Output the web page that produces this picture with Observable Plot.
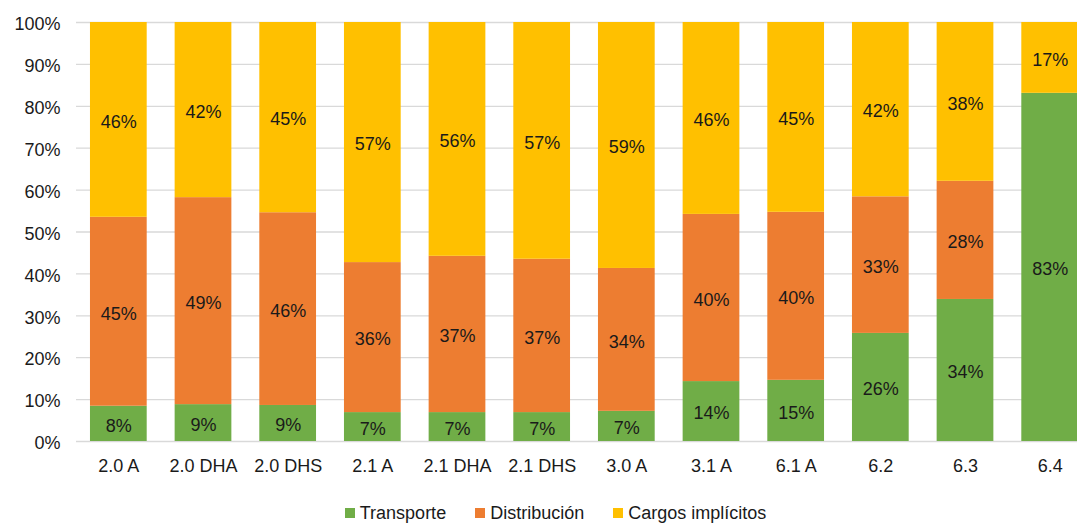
<!DOCTYPE html>
<html>
<head>
<meta charset="utf-8">
<script src="https://cdn.jsdelivr.net/npm/d3@7"></script>
<script src="https://cdn.jsdelivr.net/npm/@observablehq/plot@0.6"></script>
<style>
  html, body { margin: 0; padding: 0; background: #fff; overflow: hidden; }
  body { width: 1077px; height: 524px; font-family: "Liberation Sans", Arial, sans-serif; }
  #chart svg { display: block; }
  #legend { display: flex; justify-content: center; gap: 29px; margin-top: 3px; padding-left: 34px; font-size: 18px; color: #1a1a1a; line-height: 20px; }
  #legend span.item { display: inline-flex; align-items: center; }
  #legend span.sw { width: 10px; height: 10px; margin-right: 5px; display: inline-block; }
</style>
</head>
<body>
<div id="chart"></div>
<div id="legend"></div>
<script>
const categories = ["2.0 A", "2.0 DHA", "2.0 DHS", "2.1 A", "2.1 DHA", "2.1 DHS", "3.0 A", "3.1 A", "6.1 A", "6.2", "6.3", "6.4"];
const seriesNames = ["Transporte", "Distribución", "Cargos implícitos"];
const seriesColors = ["#70AD47", "#ED7D31", "#FFC000"];
const transporte   = [8.4, 8.8, 8.6, 6.9, 6.9, 6.9, 7.2, 14.3, 14.6, 25.8, 33.9, 83.1];
const distribucion = [45.0, 49.4, 46.0, 35.8, 37.3, 36.6, 34.1, 39.9, 40.1, 32.6, 28.2, 0];
const cargos       = [46.4, 41.8, 45.4, 57.3, 55.8, 56.5, 58.7, 45.8, 45.3, 41.6, 37.9, 16.9];
const yTicks = [0, 0.1, 0.2, 0.3, 0.4, 0.5, 0.6, 0.7, 0.8, 0.9, 1.0];

const seriesValues = [transporte, distribucion, cargos];
const rows = [];
seriesNames.forEach((s, si) => {
  categories.forEach((c, ci) => {
    rows.push({cat: c, serie: s, value: seriesValues[si][ci]});
  });
});

const chart = Plot.plot({
  width: 1077,
  height: 500,
  marginTop: 22,
  marginBottom: 59,
  marginLeft: 76,
  marginRight: 0,
  style: {fontFamily: '"Liberation Sans", Arial, sans-serif', fontSize: "18px", color: "#1a1a1a", background: "#fff", overflow: "hidden"},
  x: {domain: categories, range: [76, 1092], paddingInner: 0.33, paddingOuter: 0.165, round: false, label: null},
  y: {domain: [0, 1], label: null},
  color: {domain: seriesNames, range: seriesColors},
  marks: [
    Plot.ruleY(yTicks, {stroke: "#d9d9d9", strokeWidth: 1.3}),
    Plot.barY(rows, Plot.stackY({offset: "normalize", x: "cat", y: "value", z: "serie", fill: "serie", order: seriesNames})),
    Plot.text(rows, Plot.stackY({offset: "normalize", x: "cat", y: "value", z: "serie", order: seriesNames,
      text: d => d.value > 0 ? Math.round(d.value) + "%" : "", fill: "#1a1a1a", fontSize: 18, dy: 2})),
    Plot.axisY({ticks: yTicks, tickFormat: d3.format(".0%"), tickSize: 0, tickPadding: 16, fontSize: 18, label: null, dy: 2}),
    Plot.axisX({tickSize: 0, tickPadding: 18, fontSize: 18, label: null})
  ]
});
document.getElementById("chart").appendChild(chart);

const legend = document.getElementById("legend");
seriesNames.forEach((s, i) => {
  const item = document.createElement("span");
  item.className = "item";
  const sw = document.createElement("span");
  sw.className = "sw";
  sw.style.background = seriesColors[i];
  item.appendChild(sw);
  item.appendChild(document.createTextNode(s));
  legend.appendChild(item);
});
</script>
</body>
</html>
